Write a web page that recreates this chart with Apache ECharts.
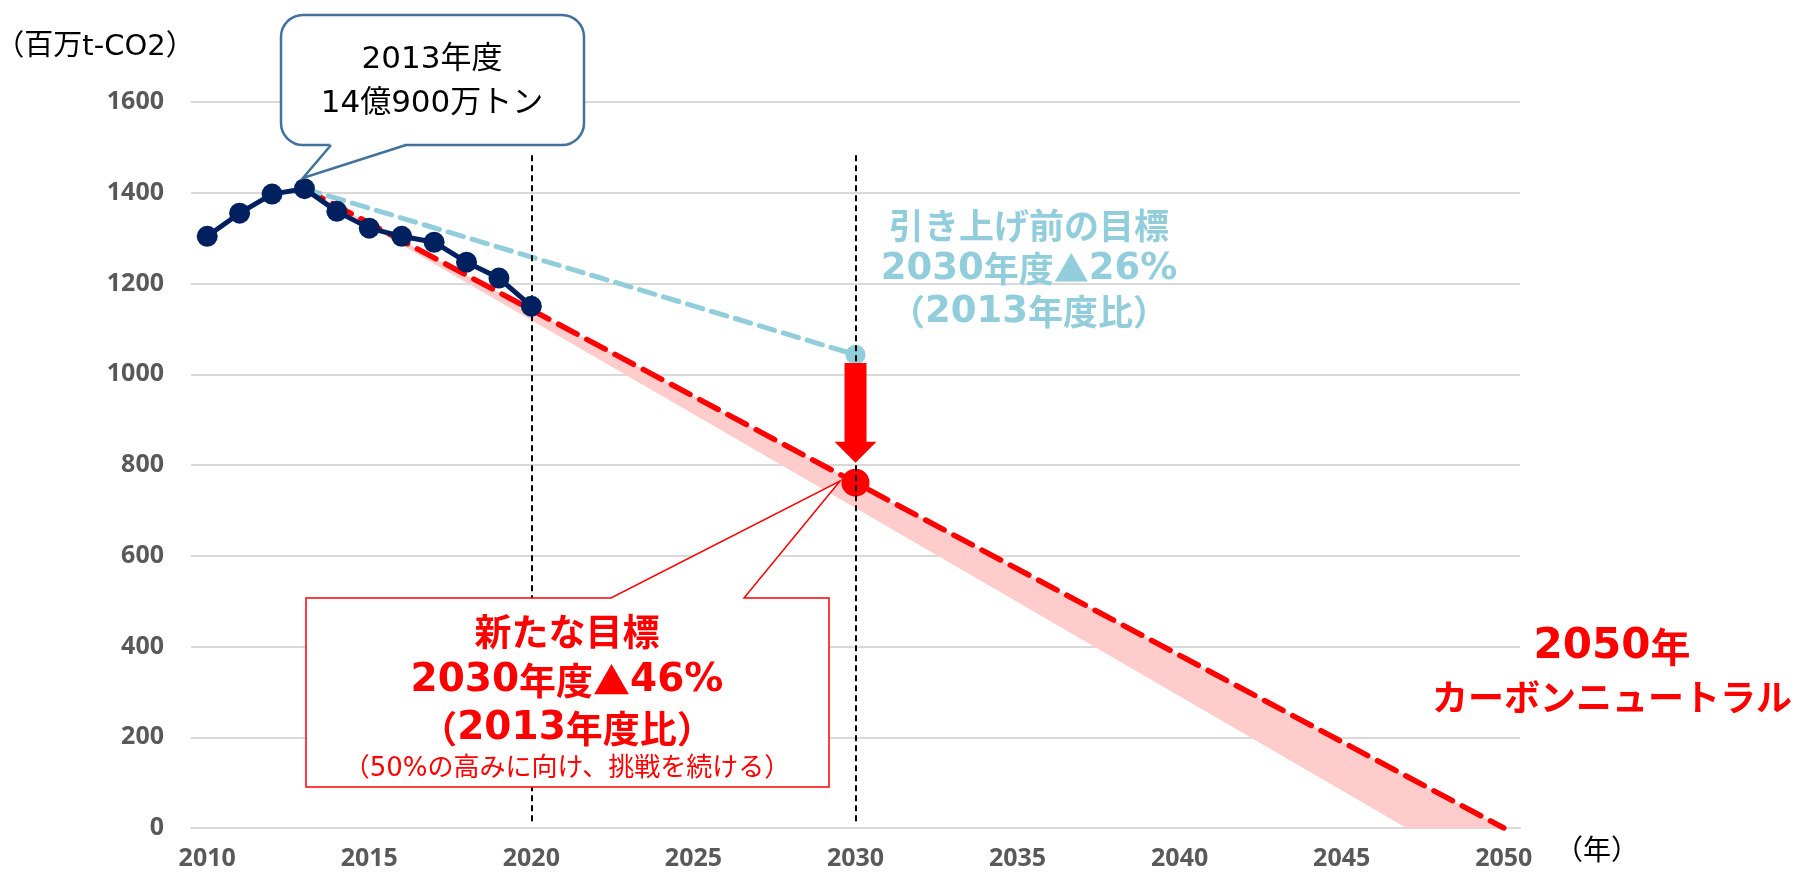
<!DOCTYPE html>
<html><head><meta charset="utf-8">
<script src="https://cdn.jsdelivr.net/npm/echarts@6/dist/echarts.min.js"></script>
<style>html,body{margin:0;padding:0;background:#fff}#c{width:1796px;height:872px}</style>
</head><body><div id="c"></div>
<script>
// ---- data ----
const years = ['2010','2011','2012','2013','2014','2015','2016','2017','2018','2019','2020',
  '2021','2022','2023','2024','2025','2026','2027','2028','2029','2030',
  '2031','2032','2033','2034','2035','2036','2037','2038','2039','2040',
  '2041','2042','2043','2044','2045','2046','2047','2048','2049','2050'];
const xTickLabels = ['2010','2015','2020','2025','2030','2035','2040','2045','2050'];
const yMin = 0, yMax = 1600, yStep = 200;

const actualYears  = ['2010','2011','2012','2013','2014','2015','2016','2017','2018','2019','2020'];
const actualValues = [1304, 1355, 1397, 1409, 1359, 1322, 1304, 1291, 1247, 1212, 1150];

const oldTargetYears  = ['2013','2030'];
const oldTargetValues = [1409, 1043];

const newTargetYears  = ['2013','2030','2050'];
const newTargetValues = [1409, 761, 0];

const bandLowerYears  = ['2013','2030','2047'];
const bandLowerValues = [1409, 705, 0];

const guideYears = ['2020','2030'];
const guideFrom = 15, guideTo = 1490;

const arrowYear = '2030';
const arrowFrom = 1025, arrowTo = 805;

// ---- chart ----
const F = "'DejaVu Sans','Noto Sans CJK JP',sans-serif";
const FN = "'DejaVu Sans',sans-serif";
const FJ = "'Noto Sans CJK JP',sans-serif";
const FA = "'Noto Sans',sans-serif";
const LB = '#92CDDC', NAVY = '#002060', RED = '#FF0000', CB = '#41719C';
const idx = y => years.indexOf(y);

const chart = echarts.init(document.getElementById('c'), null, {renderer: 'canvas'});

function txt(text, x, y, size, color, weight) {
  return {type: 'text', x: x, y: y, z: 100,
    style: {text: text, fill: color, fontSize: size, fontWeight: weight || 'normal', fontFamily: F,
      textAlign: 'center', align: 'center', textVerticalAlign: 'middle', verticalAlign: 'middle'}};
}
function rtxt(text, x, y, nSize, jSize, color) {
  return {type: 'text', x: x, y: y, z: 100,
    style: {text: text, fill: color, fontWeight: 'bold', fontSize: jSize, fontFamily: FJ,
      textAlign: 'center', align: 'center', textVerticalAlign: 'middle', verticalAlign: 'middle',
      rich: {
        n: {fontSize: nSize, fontWeight: 'bold', fontFamily: FN, fill: color, color: color, verticalAlign: 'middle'},
        j: {fontSize: jSize, fontWeight: 'bold', fontFamily: FJ, fill: color, color: color, verticalAlign: 'middle'}
      }}};
}

const option = {
  animation: false,
  backgroundColor: '#fff',
  grid: {left: 191, right: 276, top: 102, bottom: 44},
  xAxis: {
    type: 'category', data: years, boundaryGap: true,
    axisLine: {lineStyle: {color: '#D9D9D9', width: 2}},
    axisTick: {show: false},
    axisLabel: {interval: (i, v) => xTickLabels.includes(v), margin: 18, fontSize: 25, fontWeight: 'bold',
      color: '#595959', fontFamily: FA},
    splitLine: {show: false}
  },
  yAxis: {
    type: 'value', min: yMin, max: yMax, interval: yStep,
    axisLine: {show: false}, axisTick: {show: false},
    axisLabel: {margin: 27, fontSize: 25, fontWeight: 'bold', color: '#595959', fontFamily: FA,
      formatter: v => String(v)},
    splitLine: {lineStyle: {color: '#D9D9D9', width: 2}}
  },
  series: [
    {
      type: 'custom', z: 1, silent: true, data: [0],
      renderItem: (params, api) => {
        const pts = [];
        newTargetYears.forEach((y, i) => pts.push(api.coord([idx(y), newTargetValues[i]])));
        for (let i = bandLowerYears.length - 1; i >= 0; i--) pts.push(api.coord([idx(bandLowerYears[i]), bandLowerValues[i]]));
        return {type: 'polygon', shape: {points: pts}, style: {fill: '#FFCCCC'}};
      }
    },
    {
      type: 'line', z: 3, silent: true,
      data: newTargetYears.map((y, i) => y === '2030'
        ? {value: [y, newTargetValues[i]], symbol: 'circle', symbolSize: 28, itemStyle: {color: RED}}
        : {value: [y, newTargetValues[i]], symbol: 'none'}),
      symbol: 'none', showAllSymbol: true,
      lineStyle: {color: RED, width: 5.5, type: [21, 11], cap: 'round'},
      itemStyle: {color: RED}
    },
    {
      type: 'line', z: 4, silent: true,
      data: oldTargetYears.map((y, i) => y === '2030'
        ? {value: [y, oldTargetValues[i]], symbol: 'circle', symbolSize: 20, itemStyle: {color: LB}}
        : {value: [y, oldTargetValues[i]], symbol: 'none'}),
      symbol: 'none', showAllSymbol: true,
      lineStyle: {color: LB, width: 5, type: [16, 9], cap: 'round'},
      itemStyle: {color: LB}
    },
    {
      type: 'custom', z: 5, silent: true, data: [0],
      renderItem: (params, api) => {
        const a = api.coord([idx(arrowYear), arrowFrom]);
        const b = api.coord([idx(arrowYear), arrowTo]);
        const x = a[0], hw = 11, hh = 21, hl = 21;
        return {type: 'polygon', shape: {points: [
          [x - hw, a[1]], [x + hw, a[1]], [x + hw, b[1] - hl], [x + hh, b[1] - hl],
          [x, b[1]], [x - hh, b[1] - hl], [x - hw, b[1] - hl]]}, style: {fill: RED}};
      }
    },
    {
      type: 'line', z: 6, silent: true,
      data: actualYears.map((y, i) => [y, actualValues[i]]),
      symbol: 'circle', symbolSize: 21, showAllSymbol: true,
      lineStyle: {color: NAVY, width: 5},
      itemStyle: {color: NAVY},
      markLine: {
        silent: true, symbol: ['none', 'none'], label: {show: false},
        lineStyle: {color: '#000', width: 2, type: [6, 4]},
        data: guideYears.map(y => [{coord: [y, guideFrom]}, {coord: [y, guideTo]}])
      }
    }
  ],
  graphic: [
    txt('（百万t-CO2）', 95, 47, 29, '#000'),
    txt('（年）', 1597, 853, 28, '#000'),
    {type: 'rect', z: 100, shape: {x: 281, y: 15, width: 303, height: 130, r: 22},
      style: {fill: '#fff', stroke: CB, lineWidth: 2.5}},
    {type: 'rect', z: 101, shape: {x: 332, y: 142, width: 72, height: 6},
      style: {fill: '#fff'}},
    {type: 'polygon', z: 101, shape: {points: [[331, 143], [303, 178], [406, 143]]},
      style: {fill: '#fff'}},
    {type: 'polyline', z: 102, shape: {points: [[331, 145], [303, 178], [406, 145]]},
      style: {fill: null, stroke: CB, lineWidth: 2.5}},
    txt('2013年度', 432, 60, 31, '#000'),
    txt('14億900万トン', 432, 104, 31, '#000'),
    {type: 'polygon', z: 100, shape: {points: [[306, 598], [611, 598], [840, 481], [744, 598], [829, 598], [829, 787], [306, 787]]},
      style: {fill: '#fff', stroke: RED, lineWidth: 1.5}},
    rtxt('{j|新たな目標}', 567, 632, 39, 37, RED),
    rtxt('{n|2030}{j|年度▲}{n|46%}', 567, 681, 39, 37, RED),
    rtxt('{j|（}{n|2013}{j|年度比）}', 567, 729, 39, 37, RED),
    txt('（50%の高みに向け、挑戦を続ける）', 567, 769, 26, RED),
    rtxt('{j|引き上げ前の目標}', 1029, 226, 37, 35, LB),
    rtxt('{n|2030}{j|年度▲}{n|26%}', 1029, 269, 37, 35, LB),
    rtxt('{j|（}{n|2013}{j|年度比）}', 1029, 312, 37, 35, LB),
    rtxt('{n|2050}{j|年}', 1612, 647, 42, 40, RED),
    rtxt('{j|カーボンニュートラル}', 1612, 697, 40, 36, RED)
  ]
};
chart.setOption(option);
</script>
</body></html>
